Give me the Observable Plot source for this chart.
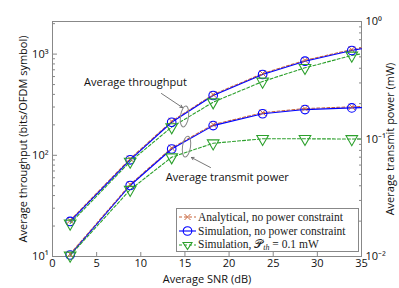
<!DOCTYPE html>
<html><head><meta charset="utf-8">
<script src="https://cdn.jsdelivr.net/npm/d3@7"></script>
<script src="https://cdn.jsdelivr.net/npm/@observablehq/plot@0.6"></script>
<style>
body{margin:0;background:#fff;}
#chart{position:relative;width:399px;height:288px;font-family:"Open Sans",sans-serif;}
#legend{position:absolute;left:176px;top:208px;width:183px;height:44px;border:1px solid #888;background:#fff;font-family:"Liberation Serif","DejaVu Serif",serif;font-size:11.5px;box-sizing:border-box;padding-top:1px}
#legend .row{display:flex;align-items:center;height:14px;white-space:nowrap;color:#222}
#legend svg{flex:none;width:21px;height:14px;margin-right:0}
</style></head><body><div id="chart"></div>
<script>
// ---- data ----
const snr = [2, 8.8, 13.5, 18.2, 23.8, 28.6, 33.9, 35];          // last entry: line end at frame edge (no marker)
const thrSim = [22.2, 90.3, 212, 390, 629, 851, 1086, 1128];      // bits/OFDM symbol, no power constraint
const thrAna = [22.7, 92.5, 217, 398, 642, 868, 1108, 1150];      // analytical, no power constraint
const thrCap = [21.2, 86.8, 190, 335, 536, 732, 969, 1007];       // simulation, P_th = 0.1 mW
const pwrSim = [0.0103, 0.0402, 0.0822, 0.130, 0.164, 0.178, 0.184, 0.185]; // mW
const pwrAna = [0.0105, 0.0410, 0.0838, 0.1326, 0.1673, 0.1816, 0.1877, 0.1887];
const pwrCap = [0.0102, 0.037, 0.070, 0.092, 0.1004, 0.1004, 0.1, 0.1];
const leftMajor = [10, 100, 1000];
const leftMinor = [20,30,40,50,60,70,80,90,200,300,400,500,600,700,800,900,2000];
const rightMajor = [0.01, 0.1, 1];
const rightMinor = [0.02,0.03,0.04,0.05,0.06,0.07,0.08,0.09,0.2,0.3,0.4,0.5,0.6,0.7,0.8,0.9];
const xTicks = [0,5,10,15,20,25,30,35];
const leftDomain = [10, 2100];
const rightDomain = [0.01, 1];
const annoText = [{x: 9.4, y: 524, t: "Average throughput"}, {x: 19.8, y: 60.4, t: "Average transmit power"}];
const annoArrows = [{x1: 12.34, y1: 408, x2: 14.72, y2: 296.6}, {x1: 17.9, y1: 75.7, x2: 15.74, y2: 95.1}];
const annoEllipses = [{x: 14.95, y: 241.7}, {x: 15.18, y: 122}];

// map right-axis (power) values onto the left log scale
const L0 = Math.log10(leftDomain[0]), L1 = Math.log10(leftDomain[1]);
const R0 = Math.log10(rightDomain[0]), R1 = Math.log10(rightDomain[1]);
const toLeft = p => Math.pow(10, L0 + (Math.log10(p) - R0) * (L1 - L0) / (R1 - R0));
const fromLeft = v => Math.pow(10, R0 + (Math.log10(v) - L0) * (R1 - R0) / (L1 - L0));

const sup = {"-":"⁻","0":"⁰","1":"¹","2":"²","3":"³"};
const powFmt = v => { const e = Math.round(Math.log10(v)); return "10" + String(e).split("").map(c => sup[c]).join(""); };

const BLUE = "#0000ff", GREEN = "#2ca02c", ORANGE = "#c8643a", FRAME = "#888";
const mk = (ys, tr = d => d) => snr.map((x, i) => ({x, y: tr(ys[i]), marker: i < snr.length - 1}));
const sAna = mk(thrAna), sSim = mk(thrSim), sCap = mk(thrCap);
const pAna = mk(pwrAna, toLeft), pSim = mk(pwrSim, toLeft), pCap = mk(pwrCap, toLeft);
const mks = a => a.filter(d => d.marker);

const ellipse = {draw(ctx){ const rx = 4, ry = 10.5, k = 0.5523;
  ctx.moveTo(rx, 0);
  ctx.bezierCurveTo(rx, ry*k, rx*k, ry, 0, ry);
  ctx.bezierCurveTo(-rx*k, ry, -rx, ry*k, -rx, 0);
  ctx.bezierCurveTo(-rx, -ry*k, -rx*k, -ry, 0, -ry);
  ctx.bezierCurveTo(rx*k, -ry, rx, -ry*k, rx, 0);
  ctx.closePath(); }};

const lineSeries = (data, stroke, dash) => Plot.line(data, {x: "x", y: "y", stroke, strokeWidth: 1.1, strokeDasharray: dash});

const chart = Plot.plot({
  width: 399, height: 288,
  marginLeft: 52, marginRight: 38, marginTop: 21, marginBottom: 32,
  style: {fontFamily: "'Open Sans', sans-serif", fontSize: "11px", color: "#111", background: "#fff"},
  x: {domain: [0, 35]},
  y: {type: "log", domain: leftDomain},
  marks: [
    Plot.frame({stroke: FRAME}),
    // axes: inward ticks
    Plot.axisX(xTicks, {anchor: "bottom", tickSize: -4, fill: "none", stroke: FRAME}),
    Plot.axisX(xTicks, {anchor: "bottom", tickSize: 0, tickPadding: 3, label: "Average SNR (dB)", labelAnchor: "center", labelArrow: "none", labelOffset: 26}),
    Plot.axisY(leftMajor, {anchor: "left", tickSize: -5, fill: "none", stroke: FRAME}),
    Plot.axisY(leftMinor, {anchor: "left", tickSize: -3, fill: "none", stroke: FRAME}),
    Plot.axisY(leftMajor, {anchor: "left", tickSize: 0, tickPadding: 4, tickFormat: powFmt, label: "Average throughput (bits/OFDM symbol)", labelAnchor: "center", labelArrow: "none", labelOffset: 33}),
    Plot.axisY(rightMajor.map(toLeft), {anchor: "right", tickSize: -5, fill: "none", stroke: FRAME}),
    Plot.axisY(rightMinor.map(toLeft), {anchor: "right", tickSize: -3, fill: "none", stroke: FRAME}),
    Plot.axisY(rightMajor.map(toLeft), {anchor: "right", tickSize: 0, tickPadding: 4, tickFormat: v => powFmt(fromLeft(v)), label: "Average transmit power (mW)", labelAnchor: "center", labelArrow: "none", labelOffset: 32}),
    // series
    lineSeries(sAna, ORANGE, "3,2"), lineSeries(pAna, ORANGE, "3,2"),
    lineSeries(sSim, BLUE), lineSeries(pSim, BLUE),
    lineSeries(sCap, GREEN, "3,2"), lineSeries(pCap, GREEN, "3,2"),
    Plot.dot(mks(sAna).concat(mks(pAna)), {x: "x", y: "y", symbol: "times", r: 3, stroke: ORANGE, strokeWidth: 1}),
    Plot.dot(mks(sSim).concat(mks(pSim)), {x: "x", y: "y", symbol: "circle", r: 4.3, stroke: BLUE, fill: "none", strokeWidth: 1.1}),
    Plot.dot(mks(sCap).concat(mks(pCap)), {x: "x", y: "y", symbol: "triangle", r: 4.3, rotate: 180, stroke: GREEN, fill: "none", strokeWidth: 1.1}),
    // annotations
    Plot.dot(annoEllipses, {x: "x", y: "y", symbol: ellipse, rotate: 8, stroke: FRAME, fill: "none", strokeWidth: 1}),
    Plot.arrow(annoArrows, {x1: "x1", y1: "y1", x2: "x2", y2: "y2", stroke: "#555", strokeWidth: 0.8, headLength: 5}),
    Plot.text(annoText, {x: "x", y: "y", text: "t", fontSize: 11, fill: "#111"})
  ]
});

const root = document.getElementById("chart");
root.appendChild(chart);

// legend
const legendRows = [
  {stroke: ORANGE, dash: "3,2", sym: "times", html: "Analytical, no power constraint"},
  {stroke: BLUE, dash: null, sym: "circle", html: "Simulation, no power constraint"},
  {stroke: GREEN, dash: "3,2", sym: "tri", html: "Simulation, 𝒫<sub style='font-style:italic;font-size:8px;vertical-align:-2px'>th</sub> = 0.1 mW"}
];
const leg = document.createElement("div"); leg.id = "legend";
for (const r of legendRows) {
  const row = document.createElement("div"); row.className = "row";
  let m = "";
  if (r.sym === "times") m = `<path d="M7.5,4L13.5,10M13.5,4L7.5,10" stroke="${r.stroke}" stroke-width="1"/>`;
  if (r.sym === "circle") m = `<circle cx="10.5" cy="7" r="4.3" fill="none" stroke="${r.stroke}" stroke-width="1.1"/>`;
  if (r.sym === "tri") m = `<path d="M6,4.5L15,4.5L10.5,11.5Z" fill="none" stroke="${r.stroke}" stroke-width="1.1"/>`;
  row.innerHTML = `<svg viewBox="0 0 21 14"><line x1="2" y1="7" x2="19" y2="7" stroke="${r.stroke}" stroke-width="1.1" ${r.dash ? `stroke-dasharray="${r.dash}"` : ""}/>${m}</svg><span>${r.html}</span>`;
  leg.appendChild(row);
}
root.appendChild(leg);
</script>
</body></html>
